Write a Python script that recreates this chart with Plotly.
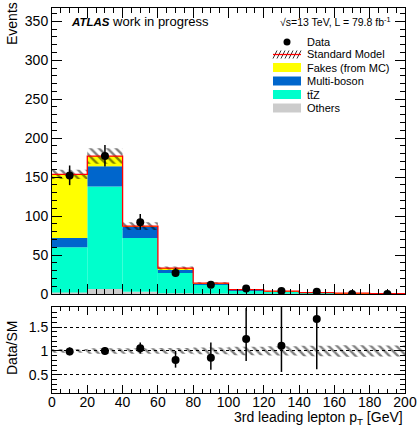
import numpy as np
import plotly.graph_objects as go

# ---------------- data ----------------
bin_edges = [0, 20, 40, 60, 80, 100, 120, 140, 160, 180, 200]
bin_centers = [10, 30, 50, 70, 90, 110, 130, 150, 170, 190]

others = [2, 6.5, 3, 1, 0.5, 0.3, 0.2, 0.1, 0.1, 0.05]
ttz = [58, 131.5, 69, 26, 12, 4.5, 2.8, 1.3, 0.7, 0.4]
multiboson = [12, 26, 14, 5, 1.3, 0.7, 0.5, 0.3, 0.15, 0.1]
fakes = [81.5, 13, 1, 1.3, 0.2, 0.1, 0.1, 0.1, 0.05, 0.05]
sm_err = [6, 10, 5, 2, 1, 0.5, 0.35, 0.2, 0.12, 0.07]

data = [152, 177, 92, 27, 12, 7, 4, 3, 0, 0]
data_err_up = [12.9, 14.3, 10.6, 6.3, 4.5, 3.6, 3.2, 2.9, 1.8, 1.8]
data_err_dn = [12.3, 13.3, 9.6, 5.2, 3.4, 2.6, 1.9, 1.6, 0, 0]

ratio_err_up = [0.085, 0.08, 0.12, 0.19, 0.32, 0.65, 0.9, 1.6]
ratio_err_dn = [0.08, 0.075, 0.11, 0.16, 0.25, 0.46, 0.55, 1.05]

x_ticks = [0, 20, 40, 60, 80, 100, 120, 140, 160, 180, 200]
y_ticks = [0, 50, 100, 150, 200, 250, 300, 350]
ratio_ticks = [0.5, 1, 1.5]
ratio_tick_labels = ["0.5", "1", "1.5"]

# ---------------- derived ----------------
o = np.array(others)
t = np.array(ttz)
m = np.array(multiboson)
f = np.array(fakes)
sm = o + t + m + f
err = np.array(sm_err)
d = np.array(data, dtype=float)

W, H = 418, 427
ML, MR, MT, MB_ = 52, 13, 8, 34
PW, PH = W - ML - MR, H - MT - MB_


def px(x):
    return (x - ML) / PW


def py(y):
    return (H - MB_ - y) / PH


main_bottom = py(294)
ratio_top = py(307)

FONT = "Liberation Sans, Arial, Helvetica, sans-serif"

fig = go.Figure()

# stack
stack = [
    ("Others", o, np.zeros_like(o), "#CCCCCC"),
    ("ttZ", t, o, "#00FFCC"),
    ("Multi-boson", m, o + t, "#0066CC"),
    ("Fakes", f, o + t + m, "#FFFF00"),
]
for name, vals, base, col in stack:
    fig.add_trace(go.Bar(
        x=bin_centers, y=vals, base=base, width=20,
        marker=dict(color=col, line=dict(width=0)), opacity=1,
        showlegend=False, name=name, xaxis="x", yaxis="y"))

hatch = dict(shape="\\", fgcolor="black", bgcolor="rgba(0,0,0,0)",
             size=6, solidity=0.4, fillmode="overlay")

# SM hatched uncertainty
fig.add_trace(go.Bar(
    x=bin_centers, y=2 * err, base=sm - err, width=20,
    marker=dict(color="rgba(0,0,0,0)", line=dict(width=0), pattern=hatch),
    showlegend=False, xaxis="x", yaxis="y"))

# SM red outline
fig.add_trace(go.Scatter(
    x=bin_edges, y=list(sm) + [sm[-1]], mode="lines", line_shape="hv",
    line=dict(color="#FF0000", width=1.3), showlegend=False, xaxis="x", yaxis="y"))

# data
fig.add_trace(go.Scatter(
    x=bin_centers, y=data, mode="markers",
    marker=dict(color="black", size=8),
    error_y=dict(type="data", symmetric=False, array=data_err_up, arrayminus=data_err_dn,
                 color="black", thickness=1.5, width=0),
    showlegend=False, xaxis="x", yaxis="y"))

# ratio band
rel = err / sm
fig.add_trace(go.Bar(
    x=bin_centers, y=2 * rel, base=1 - rel, width=20,
    marker=dict(color="rgba(0,0,0,0)", line=dict(width=0), pattern=hatch),
    showlegend=False, xaxis="x2", yaxis="y2"))

nr = len(ratio_err_up)
ratio = (d / sm)[:nr]
fig.add_trace(go.Scatter(
    x=bin_centers[:nr], y=ratio, mode="markers",
    marker=dict(color="black", size=8),
    error_y=dict(type="data", symmetric=False, array=ratio_err_up, arrayminus=ratio_err_dn,
                 color="black", thickness=1.5, width=0),
    showlegend=False, xaxis="x2", yaxis="y2"))

axis_common = dict(showline=True, linecolor="black", linewidth=1, mirror="ticks",
                   ticks="inside", tickcolor="black", zeroline=False, automargin=False,
                   tickfont=dict(family=FONT, size=14, color="black"))

fig.update_layout(
    width=W, height=H, margin=dict(l=ML, r=MR, t=MT, b=MB_, autoexpand=False),
    paper_bgcolor="white", plot_bgcolor="white", barmode="overlay",
    font=dict(family=FONT, color="black"),
    xaxis=dict(domain=[0, 1], range=[0, 200], anchor="y", tickvals=x_ticks,
               showticklabels=False, ticklen=10, showgrid=False,
               minor=dict(dtick=5, ticklen=5, ticks="inside", tickcolor="black"),
               **axis_common),
    yaxis=dict(domain=[main_bottom, 1], range=[0, 367], anchor="x", tickvals=y_ticks,
               ticklen=10, showgrid=False, ticklabelstandoff=0,
               minor=dict(dtick=10, ticklen=5, ticks="inside", tickcolor="black"),
               **axis_common),
    xaxis2=dict(domain=[0, 1], range=[0, 200], anchor="y2", tickvals=x_ticks, ticklen=8,
                showgrid=False, ticklabelstandoff=-4,
                minor=dict(dtick=5, ticklen=4, ticks="inside", tickcolor="black"),
                **axis_common),
    yaxis2=dict(domain=[0, ratio_top], range=[0.12, 1.92], anchor="x2",
                tickvals=ratio_ticks, ticktext=ratio_tick_labels, ticklen=10,
                ticklabelstandoff=0,
                minor=dict(dtick=0.1, ticklen=5, ticks="inside", tickcolor="black"),
                showgrid=True, gridcolor="black", griddash="dot", gridwidth=1,
                **axis_common),
)

ann = []
ann.append(dict(x=px(12), y=py(24), xref="paper", yref="paper", text="Events",
                textangle=-90, showarrow=False, xanchor="center", yanchor="middle",
                font=dict(family=FONT, size=14)))
ann.append(dict(x=px(12), y=py(348), xref="paper", yref="paper", text="Data/SM",
                textangle=-90, showarrow=False, xanchor="center", yanchor="middle",
                font=dict(family=FONT, size=14)))
ann.append(dict(x=1, y=py(417.5), xref="paper", yref="paper",
                text="3rd leading lepton p<sub>T</sub> [GeV]", showarrow=False,
                xanchor="right", yanchor="middle", font=dict(family=FONT, size=14)))
ann.append(dict(x=px(69), y=py(21), xref="paper", yref="paper",
                text="<b><i>ATLAS</i></b><span style='font-size:13px'> work in progress</span>",
                showarrow=False, xanchor="left", yanchor="middle",
                font=dict(family=FONT, size=11.5)))
ann.append(dict(x=px(393), y=py(21), xref="paper", yref="paper",
                text="√s=13 TeV, L = 79.8 fb<sup>-1</sup>", showarrow=False,
                xanchor="right", yanchor="middle", font=dict(family=FONT, size=10.5)))

legend_items = ["Data", "Standard Model", "Fakes (from MC)", "Multi-boson", "tt\u0304Z", "Others"]
legend_y = [42, 54.5, 67.5, 81, 94.5, 108]
for txt, yy in zip(legend_items, legend_y):
    ann.append(dict(x=px(305), y=py(yy), xref="paper", yref="paper", text=txt,
                    showarrow=False, xanchor="left", yanchor="middle",
                    font=dict(family=FONT, size=11)))

shapes = []
# data marker
shapes.append(dict(type="circle", xref="paper", yref="paper",
                   x0=px(283.5), x1=px(290.5), y0=py(45.5), y1=py(38.5),
                   fillcolor="black", line=dict(width=0)))
# SM hatch icon
for k in range(7):
    x0 = 273 + k * 4
    shapes.append(dict(type="line", xref="paper", yref="paper",
                       x0=px(x0), x1=px(x0 + 4), y0=py(58.5), y1=py(50.5),
                       line=dict(color="black", width=0.8)))
shapes.append(dict(type="line", xref="paper", yref="paper",
                   x0=px(273), x1=px(301), y0=py(54.5), y1=py(54.5),
                   line=dict(color="#FF0000", width=1.3)))
for col, yy in zip(["#FFFF00", "#0066CC", "#00FFCC", "#CCCCCC"], legend_y[2:]):
    shapes.append(dict(type="rect", xref="paper", yref="paper",
                       x0=px(273), x1=px(301), y0=py(yy + 4.5), y1=py(yy - 4.5),
                       fillcolor=col, line=dict(width=0)))

fig.update_layout(annotations=ann, shapes=shapes)
fig.write_html("out.html", config={"displayModeBar": False},
               post_script="document.body.style.margin='0';document.body.style.overflow='hidden';")
